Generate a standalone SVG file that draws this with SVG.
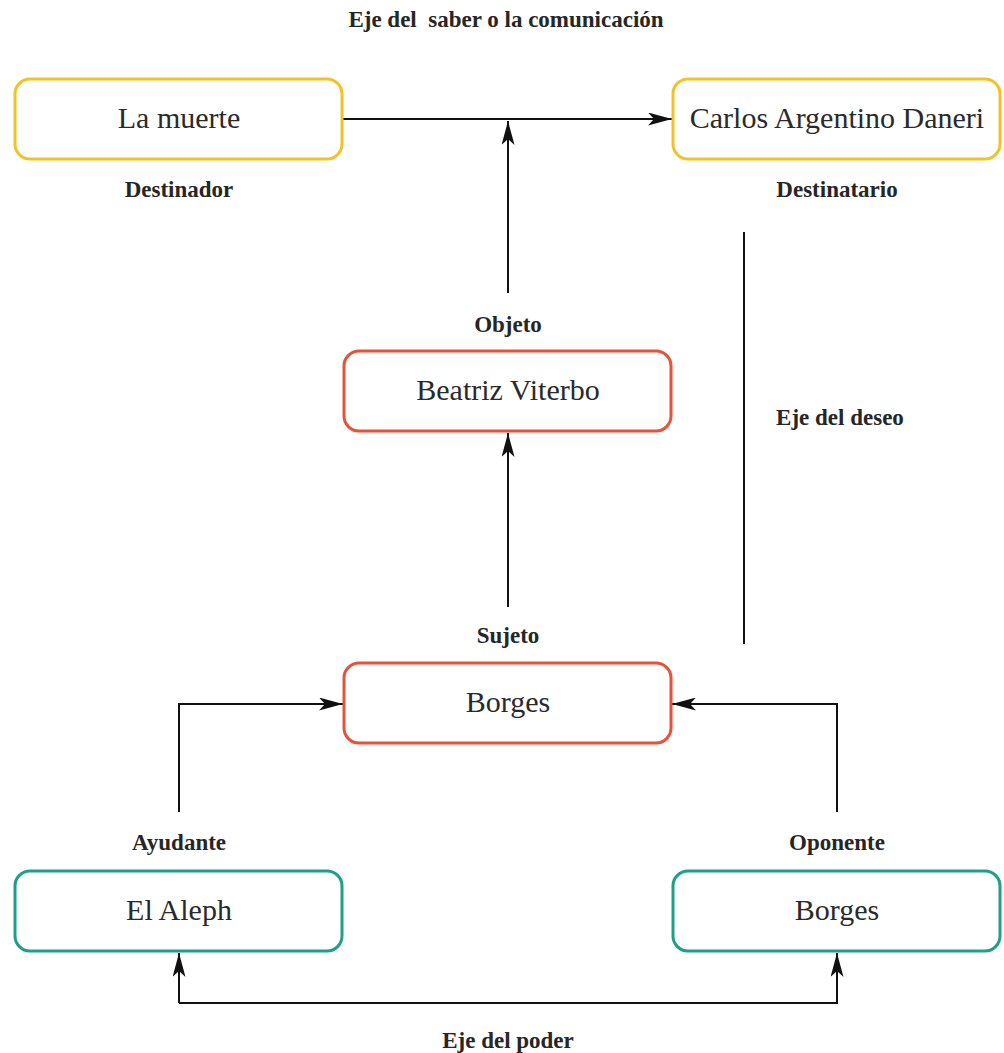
<svg xmlns="http://www.w3.org/2000/svg" width="1004" height="1053" viewBox="0 0 1004 1053">
<style>
.box{fill:#fff;stroke-width:3}
.y{stroke:#f2c22c}
.r{stroke:#e4533a}
.g{stroke:#1f9e88}
.t{font-family:'Liberation Serif','Times New Roman',Tinos,'DejaVu Serif',serif;font-size:30px;fill:#2a2a2a;text-anchor:middle}
.l{font-family:'Liberation Serif','Times New Roman',Tinos,'DejaVu Serif',serif;font-size:23px;font-weight:bold;fill:#262626;text-anchor:middle}
.c{fill:none;stroke:#111;stroke-width:2}
</style>
<defs>
<marker id="a" viewBox="0 0 24 13" refX="24" refY="6.5" markerWidth="24" markerHeight="13" markerUnits="userSpaceOnUse" orient="auto">
<path d="M0,0 L24,6.5 L0,13 L6,6.5 Z" fill="#111"/>
</marker>
</defs>
<rect width="1004" height="1053" fill="#fff"/>
<g id="connectors">
<path class="c" d="M342,119 H672" marker-end="url(#a)"/>
<path class="c" d="M508,293 V121" marker-end="url(#a)"/>
<path class="c" d="M508,607 V433" marker-end="url(#a)"/>
<path class="c" d="M179,812 V704 H343" marker-end="url(#a)"/>
<path class="c" d="M837,812 V704 H672" marker-end="url(#a)"/>
<path class="c" d="M179,1003 V953" marker-end="url(#a)"/>
<path class="c" d="M179,1003 H837 V953" marker-end="url(#a)"/>
<path class="c" d="M744,232 V644"/>
</g>
<g id="labels">
<text class="l" x="506" y="27" xml:space="preserve">Eje del  saber o la comunicación</text>
<text class="l" x="179" y="197">Destinador</text>
<text class="l" x="837" y="197">Destinatario</text>
<text class="l" x="508" y="332">Objeto</text>
<text class="l" x="840" y="425">Eje del deseo</text>
<text class="l" x="508" y="643">Sujeto</text>
<text class="l" x="179" y="850">Ayudante</text>
<text class="l" x="837" y="850">Oponente</text>
<text class="l" x="508" y="1048">Eje del poder</text>
</g>
<g id="n-lamuerte">
<rect class="box y" x="15" y="79" width="327" height="80" rx="15"/>
<text class="t" x="179" y="128">La muerte</text>
</g>
<g id="n-carlos">
<rect class="box y" x="673" y="79" width="327" height="80" rx="15"/>
<text class="t" x="837" y="128">Carlos Argentino Daneri</text>
</g>
<g id="n-beatriz">
<rect class="box r" x="344" y="351" width="327" height="80" rx="15"/>
<text class="t" x="508" y="400">Beatriz Viterbo</text>
</g>
<g id="n-borges-sujeto">
<rect class="box r" x="344" y="663" width="327" height="80" rx="15"/>
<text class="t" x="508" y="712">Borges</text>
</g>
<g id="n-aleph">
<rect class="box g" x="15" y="871" width="327" height="80" rx="15"/>
<text class="t" x="179" y="920">El Aleph</text>
</g>
<g id="n-borges-oponente">
<rect class="box g" x="673" y="871" width="327" height="80" rx="15"/>
<text class="t" x="837" y="920">Borges</text>
</g>
</svg>
